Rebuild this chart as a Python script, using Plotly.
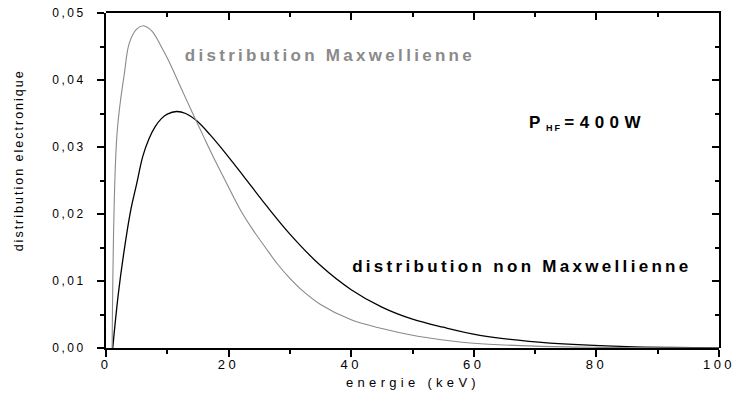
import json
import plotly.graph_objects as go

# ---- data ----
energy_maxw = [1, 1.8, 3, 3.8, 5, 6.1, 7.5, 9, 10.2, 12, 14, 16, 18, 20, 22, 24, 26, 28,
               30, 32, 35, 40, 45, 50, 55, 60, 70, 80, 90, 100]
dist_maxw = [0, 0.032, 0.041, 0.0455, 0.0476, 0.0481, 0.0473, 0.0450, 0.0429, 0.0393,
             0.0353, 0.0314, 0.0276, 0.0240, 0.0205, 0.0176, 0.0150, 0.0125, 0.0104,
             0.0086, 0.0065, 0.0042, 0.0029, 0.0019, 0.0012, 0.0007, 0.00028, 0.0001,
             0.00003, 0.00001]

energy_nonmaxw = [1.1, 2, 3, 4, 5, 6, 7, 8, 9, 10, 11.5, 13, 14.8, 17, 20, 22.4, 26.2,
                  30, 35, 40, 45, 50, 55, 61, 69, 77, 85, 92, 100]
dist_nonmaxw = [0, 0.008, 0.0148, 0.0204, 0.0245, 0.0286, 0.0312, 0.0330, 0.0342,
                0.0349, 0.0353, 0.0350, 0.0339, 0.0318, 0.0285, 0.0257, 0.0212, 0.0170,
                0.0123, 0.0087, 0.0061, 0.0043, 0.0031, 0.0019, 0.0010, 0.0005, 0.00022,
                0.0001, 0.00003]

x_tick_vals = [0, 20, 40, 60, 80, 100]
x_tick_text = ["0", "20", "40", "60", "80", "100"]
y_tick_vals = [0, 0.01, 0.02, 0.03, 0.04, 0.05]
y_tick_text = ["0,00", "0,01", "0,02", "0,03", "0,04", "0,05"]

FONT = "Arial, Liberation Sans, sans-serif"

fig = go.Figure()
fig.add_trace(go.Scatter(x=energy_maxw, y=dist_maxw, mode="lines", xaxis="x2", yaxis="y2",
                         line=dict(color="#8a8a8a", width=1.1, shape="spline", smoothing=1.0),
                         showlegend=False, hoverinfo="skip"))
fig.add_trace(go.Scatter(x=energy_nonmaxw, y=dist_nonmaxw, mode="lines",
                         line=dict(color="#000000", width=1.3, shape="spline", smoothing=1.0),
                         showlegend=False, hoverinfo="skip"))

axis_common = dict(showgrid=False, zeroline=False, showline=True, linecolor="black",
                   linewidth=2, tickcolor="black", tickwidth=1.5, automargin=False)

fig.update_layout(
    width=734, height=403, autosize=False,
    margin=dict(l=106, r=15, t=13, b=55),
    paper_bgcolor="white", plot_bgcolor="rgba(0,0,0,0)",
    font=dict(family=FONT, size=13, color="black"),
    xaxis=dict(range=[0, 100], domain=[0, 1], anchor="y",
               tickvals=x_tick_vals, ticktext=x_tick_text,
               ticks="outside", ticklen=7, tickfont=dict(size=13), ticklabelstandoff=-4,
               minor=dict(ticks="outside", ticklen=4, dtick=10, tick0=0,
                          tickcolor="black", tickwidth=1.5),
               **axis_common),
    yaxis=dict(range=[0, 0.05], domain=[0, 1], anchor="x",
               tickvals=y_tick_vals, ticktext=y_tick_text,
               ticks="outside", ticklen=7, tickfont=dict(size=12), ticklabelstandoff=9,
               minor=dict(ticks="outside", ticklen=4, dtick=0.005, tick0=0,
                          tickcolor="black", tickwidth=1.5),
               **axis_common),
    xaxis2=dict(range=[0, 100], domain=[0, 1], side="top", anchor="y2",
                tickvals=x_tick_vals, showticklabels=False, ticks="inside", ticklen=7,
                minor=dict(ticks="inside", ticklen=4, dtick=10, tick0=0,
                           tickcolor="black", tickwidth=1.5),
                **axis_common),
    yaxis2=dict(range=[0, 0.05], domain=[0, 1], side="right", anchor="x2",
                tickvals=y_tick_vals, showticklabels=False, ticks="inside", ticklen=7,
                minor=dict(ticks="inside", ticklen=4, dtick=0.005, tick0=0,
                           tickcolor="black", tickwidth=1.5),
                **axis_common),
)

annotations = [
    dict(text="distribution electronique", xref="paper", yref="paper",
         x=-0.142, y=0.56, textangle=-90, showarrow=False,
         font=dict(family=FONT, size=12.5, color="black"),
         xanchor="center", yanchor="middle"),
    dict(text="energie (keV)", xref="paper", yref="paper",
         x=0.5, y=-0.102, showarrow=False,
         font=dict(family=FONT, size=13, color="black"),
         xanchor="center", yanchor="middle"),
    dict(text="<b>distribution Maxwellienne</b>", xref="x", yref="y",
         x=36.5, y=0.0436, showarrow=False,
         font=dict(family=FONT, size=17, color="#8a8a8a"),
         xanchor="center", yanchor="middle"),
    dict(text="<b>distribution non Maxwellienne</b>", xref="x", yref="y",
         x=67.9, y=0.0121, showarrow=False,
         font=dict(family=FONT, size=17, color="black"),
         xanchor="center", yanchor="middle"),
    dict(text="<b>P</b>", xref="x", yref="y",
         x=69.9, y=0.0336, showarrow=False,
         font=dict(family=FONT, size=17, color="black"),
         xanchor="center", yanchor="middle"),
    dict(text="<b>HF</b>", xref="x", yref="y",
         x=73.2, y=0.0328, showarrow=False,
         font=dict(family=FONT, size=9, color="black"),
         xanchor="center", yanchor="middle"),
    dict(text="<b>=400W</b>", xref="x", yref="y",
         x=81.5, y=0.0336, showarrow=False,
         font=dict(family=FONT, size=17, color="black"),
         xanchor="center", yanchor="middle"),
]
fig.update_layout(annotations=annotations)

ann_spacing = ["2px", "4.3px", "3.3px", "3.3px", "0px", "2px", "5.5px"]

post = """
document.body.style.margin = '0';
document.body.style.padding = '0';
var gd = document.getElementById('{plot_id}');
function ls(sel, v){ gd.querySelectorAll(sel).forEach(function(t){ t.setAttribute('letter-spacing', v); }); }
ls('g.xtick text', '3.5px');
ls('g.ytick text', '2.5px');
var sp = %s;
gd.querySelectorAll('g.annotation text.annotation-text').forEach(function(t, i){
  if (i < sp.length) { t.setAttribute('letter-spacing', sp[i]); }
});
""" % json.dumps(ann_spacing)

fig.write_html("out.html", post_script=post, config={"displayModeBar": False})
